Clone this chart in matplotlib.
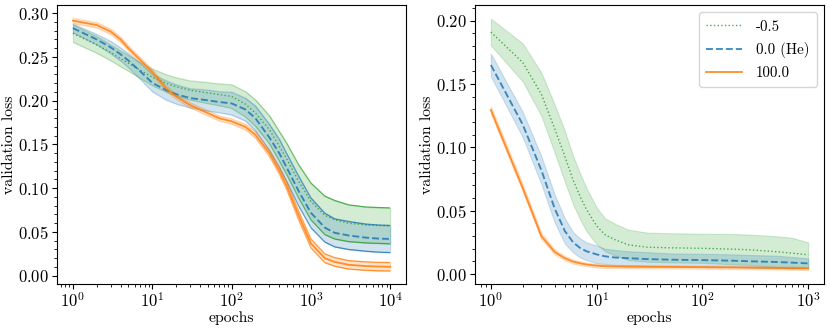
import numpy as np
import matplotlib
matplotlib.use("Agg")
import matplotlib.pyplot as plt
from matplotlib.ticker import MultipleLocator
from matplotlib.collections import LineCollection
from matplotlib.colors import to_rgba

plt.rcParams['font.family'] = ['cmr10', 'DejaVu Serif']
plt.rcParams['mathtext.fontset'] = 'cm'
plt.rcParams['axes.formatter.use_mathtext'] = True
plt.rcParams['font.size'] = 11.3

# ---- left panel: long training (1 .. 1e4 epochs)
epochs_l = [1, 2, 3, 4, 5, 7, 10, 15, 20, 30, 50, 70, 100, 150, 200, 300, 400,
            500, 700, 1000, 1500, 2000, 3000, 5000, 7000, 10000]
green_l = [0.277, 0.264, 0.255, 0.248, 0.243, 0.235, 0.227, 0.220, 0.216, 0.212, 0.209,
           0.207, 0.205, 0.196, 0.186, 0.167, 0.148, 0.133, 0.108, 0.085, 0.069,
           0.064, 0.060, 0.058, 0.0575, 0.057]
green_l_sd = [0.010, 0.0095, 0.009, 0.009, 0.009, 0.009, 0.0095, 0.010, 0.0105, 0.011, 0.012,
              0.0125, 0.0135, 0.0145, 0.015, 0.016, 0.017, 0.018, 0.019, 0.021, 0.022,
              0.022, 0.021, 0.0205, 0.0205, 0.0205]
blue_l = [0.283, 0.270, 0.261, 0.253, 0.246, 0.234, 0.2205, 0.212, 0.2075, 0.203, 0.2005,
          0.1985, 0.197, 0.190, 0.180, 0.158, 0.140, 0.123, 0.097, 0.072, 0.055,
          0.049, 0.046, 0.0435, 0.0425, 0.042]
blue_l_sd = [0.005, 0.006, 0.007, 0.0075, 0.008, 0.009, 0.010, 0.011, 0.011, 0.011, 0.012,
             0.012, 0.013, 0.013, 0.014, 0.015, 0.016, 0.016, 0.017, 0.017, 0.0165,
             0.016, 0.016, 0.0155, 0.0155, 0.0155]
orange_l = [0.2915, 0.2865, 0.279, 0.270, 0.260, 0.247, 0.233, 0.214, 0.205, 0.195, 0.186,
            0.180, 0.1765, 0.170, 0.161, 0.140, 0.120, 0.102, 0.069, 0.037, 0.020,
            0.0158, 0.0125, 0.011, 0.0105, 0.0103]
orange_l_sd = [0.003, 0.003, 0.003, 0.003, 0.003, 0.003, 0.003, 0.003, 0.003, 0.003, 0.003,
               0.003, 0.003, 0.0032, 0.0035, 0.0038, 0.004, 0.0045, 0.005, 0.005, 0.005,
               0.0049, 0.0048, 0.0048, 0.0048, 0.0048]

# ---- right panel: 1 .. 1e3 epochs
epochs_r = [1, 2, 3, 4, 5, 6, 7, 8, 10, 12, 15, 20, 30, 50, 100, 200, 300, 500, 700, 1000]
green_r = [0.191, 0.167, 0.142, 0.115, 0.093, 0.074, 0.061, 0.051, 0.038, 0.031,
           0.027, 0.023, 0.0212, 0.0207, 0.0203, 0.0196, 0.019, 0.0176, 0.0165, 0.0152]
green_r_sd = [0.0105, 0.015, 0.017, 0.019, 0.020, 0.019, 0.018, 0.017, 0.0145, 0.013,
              0.0125, 0.012, 0.0115, 0.0115, 0.0115, 0.012, 0.012, 0.0122, 0.0122, 0.0098]
blue_r = [0.165, 0.118, 0.082, 0.052, 0.034, 0.025, 0.0205, 0.018, 0.0155, 0.014,
          0.013, 0.0125, 0.0118, 0.0113, 0.011, 0.0105, 0.010, 0.0095, 0.009, 0.0084]
blue_r_sd = [0.009, 0.010, 0.011, 0.011, 0.010, 0.008, 0.0075, 0.007, 0.007, 0.006,
             0.006, 0.0055, 0.0055, 0.005, 0.005, 0.005, 0.005, 0.005, 0.0045, 0.004]
orange_r = [0.1295, 0.068, 0.030, 0.0175, 0.0125, 0.0098, 0.0085, 0.0075, 0.0066, 0.0062,
            0.006, 0.0058, 0.0057, 0.0056, 0.0054, 0.0052, 0.005, 0.0048, 0.0047, 0.0045]
orange_r_sd = [0.003, 0.003, 0.0025, 0.002, 0.0018, 0.0016, 0.0015, 0.0015, 0.0014, 0.0014,
               0.0013, 0.0013, 0.0013, 0.0013, 0.0013, 0.0013, 0.0013, 0.0013, 0.0013, 0.0013]

labels = ['-0.5', '0.0 (He)', '100.0']
colors = ['tab:green', 'tab:blue', 'tab:orange']
styles = [':', '--', '-']


def fading_edge(ax, x, y, c):
    # band edge: faint early, solid towards the end of training
    pts = np.column_stack([x, y])
    segs = np.stack([pts[:-1], pts[1:]], axis=1)
    xm = np.sqrt(x[:-1] * x[1:])
    a = 0.12 + 0.7 * np.clip((np.log10(xm) - 2.0) / 1.3, 0, 1)
    rgba = [to_rgba(c, ai) for ai in a]
    ax.add_collection(LineCollection(segs, colors=rgba, linewidths=0.9))


def draw(ax, ep, series, edges=False):
    ep = np.array(ep, dtype=float)
    for (m, s), c, ls, lab in zip(series, colors, styles, labels):
        m = np.array(m)
        s = np.array(s)
        ax.fill_between(ep, m - s, m + s, color=c, alpha=0.2, lw=0.8)
        if edges:
            fading_edge(ax, ep, m - s, c)
            fading_edge(ax, ep, m + s, c)
        lw = 1.0 if ls == ':' else 1.35
        ax.plot(ep, m, ls=ls, color=c, lw=lw, alpha=0.85, label=lab)
    ax.set_xscale('log')
    ax.set_xlabel('epochs', labelpad=1)
    ax.set_ylabel('validation loss', labelpad=1)
    ax.yaxis.set_minor_locator(MultipleLocator(0.01))
    ax.tick_params(which='major', length=3.5, width=0.8, labelsize=12, pad=2.5)
    ax.tick_params(axis='x', which='major', pad=1.5)
    ax.tick_params(which='minor', length=2, width=0.6)


fig = plt.figure(figsize=(8.3, 3.28), dpi=100)
ax1 = fig.add_axes([0.0687, 0.134, 0.4205, 0.851])
ax2 = fig.add_axes([0.5723, 0.134, 0.4205, 0.851])

draw(ax1, epochs_l, [(green_l, green_l_sd), (blue_l, blue_l_sd), (orange_l, orange_l_sd)], edges=True)
ax1.set_xlim(10 ** -0.2, 10 ** 4.2)
ax1.set_ylim(-0.0095, 0.3095)
ax1.yaxis.set_major_locator(MultipleLocator(0.05))

draw(ax2, epochs_r, [(green_r, green_r_sd), (blue_r, blue_r_sd), (orange_r, orange_r_sd)])
ax2.set_xlim(10 ** -0.15, 10 ** 3.15)
ax2.set_ylim(-0.0079, 0.2124)
ax2.yaxis.set_major_locator(MultipleLocator(0.05))
ax2.legend(loc='upper right', fontsize=10.8, handlelength=2.4, handletextpad=0.9,
           borderpad=0.5, labelspacing=0.55)

fig.savefig('out.png', dpi=100)
